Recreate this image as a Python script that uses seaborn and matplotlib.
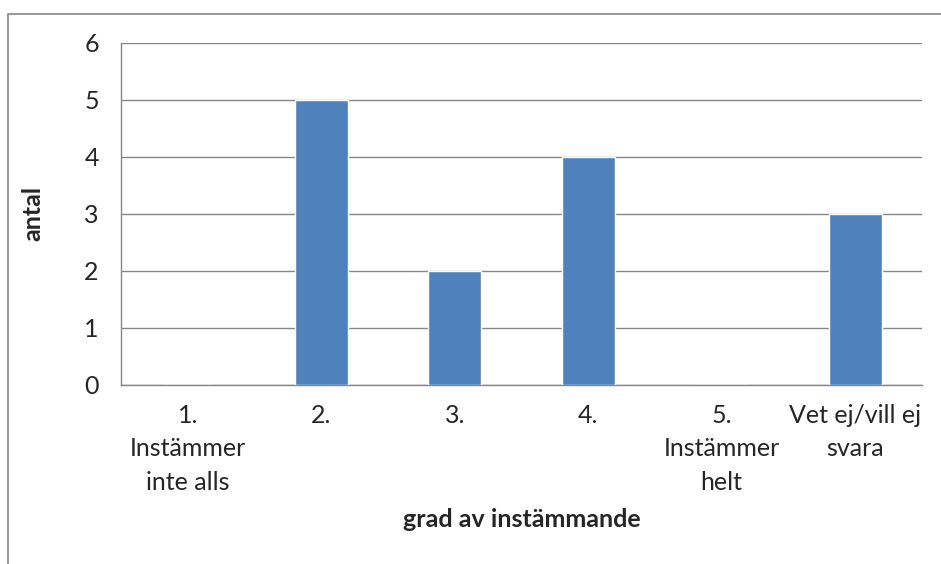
import matplotlib
matplotlib.use("Agg")
import matplotlib.pyplot as plt
import seaborn as sns
import pandas as pd

# answers per degree of agreement
categories = ["1.\nInstämmer\ninte alls", "2.", "3.", "4.", "5.\nInstämmer\nhelt", "Vet ej/vill ej\nsvara"]
antal = [0, 5, 2, 4, 0, 3]
yticks = [0, 1, 2, 3, 4, 5, 6]

data = pd.DataFrame({"grad": categories, "antal": antal})

sns.set_style("white")
plt.rcParams["font.family"] = ["Lato", "DejaVu Sans"]

fig = plt.figure(figsize=(9.41, 5.64), dpi=100)
ax = fig.add_axes([121/941, 1-384.5/564, 801/941, 341.5/564])

grey = "#868686"
sns.barplot(data=data, x="grad", y="antal", color="#4F81BD", saturation=1, width=0.4, ax=ax, zorder=3)

fs = 18
ax.set_ylim(0, 6)
ax.set_xlim(-0.5, len(categories)-0.5)
ax.set_yticks(yticks)
ax.set_yticklabels([str(t) for t in yticks], fontsize=fs)
ax.yaxis.grid(True, color=grey, linewidth=1)
ax.set_axisbelow(True)
ax.tick_params(axis="y", length=8, color=grey, width=1, pad=8)
ax.set_xticks(range(len(categories)))
ax.set_xticklabels(categories, fontsize=fs, linespacing=1.55)
ax.tick_params(axis="x", which="major", length=0, pad=14)
ax.set_xticks([i-0.5 for i in range(len(categories)+1)], minor=True)
ax.tick_params(axis="x", which="minor", length=6, color=grey, width=1)

for s in ["top", "right"]:
    ax.spines[s].set_visible(False)
for s in ["left", "bottom"]:
    ax.spines[s].set_color(grey)
    ax.spines[s].set_linewidth(1)

ax.set_ylabel("antal", fontsize=fs, fontweight="bold", labelpad=29)
ax.set_xlabel("grad av instämmande", fontsize=fs, fontweight="bold", labelpad=10)

# chart border like excel
fig.patches.append(plt.Rectangle((8/941, -0.1), 1.1, 1.1-14/564, transform=fig.transFigure,
                                 fill=False, edgecolor=grey, linewidth=1.2))

fig.savefig("out.png", dpi=100)
